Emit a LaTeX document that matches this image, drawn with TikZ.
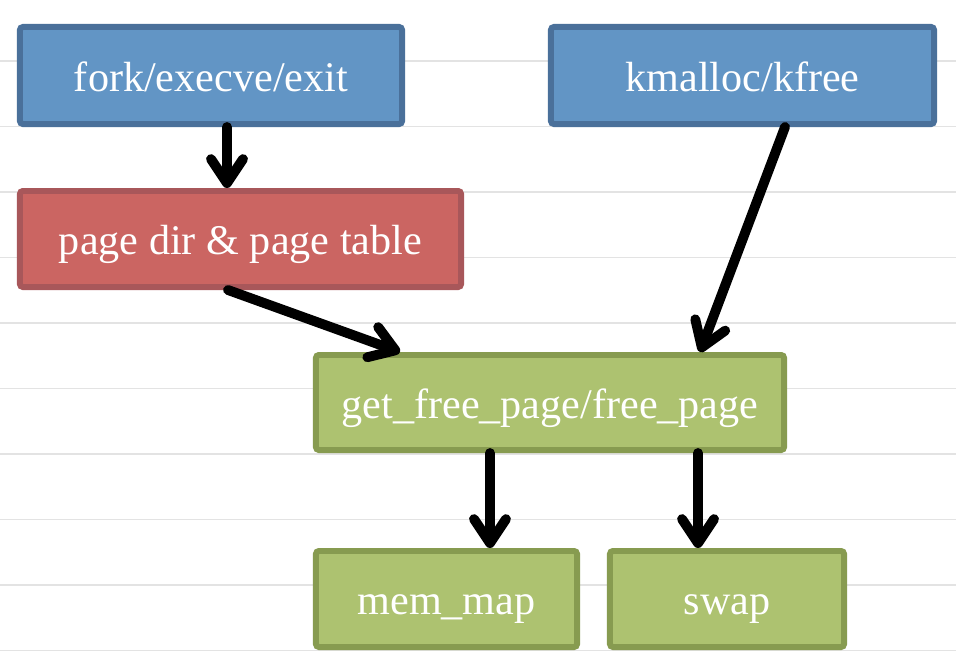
\documentclass[tikz,border=0pt]{standalone}
\usepackage{fontspec}
\setmainfont{Liberation Serif}
\usetikzlibrary{arrows.meta}
\definecolor{boxblue}{HTML}{6295C5}
\definecolor{boxblueline}{HTML}{4A709A}
\definecolor{boxred}{HTML}{CB6562}
\definecolor{boxredline}{HTML}{A8575A}
\definecolor{boxgreen}{HTML}{ADC270}
\definecolor{boxgreenline}{HTML}{879B50}
\definecolor{ruleline}{HTML}{E3E3E3}

\begin{document}
\begin{tikzpicture}[x=0.025cm, y=-0.025cm,
  box/.style={draw, line width=4.25pt, rounded corners=0.075cm, text=white,
    font=\fontsize{30}{36}\selectfont, inner sep=0pt, minimum height=2.4cm,
    text height=22.7pt, text depth=0pt},
  bluebox/.style={box, fill=boxblue, draw=boxblueline},
  redbox/.style={box, fill=boxred, draw=boxredline},
  greenbox/.style={box, fill=boxgreen, draw=boxgreenline},
  flow/.style={line width=7pt, line cap=round,
    -{Straight Barb[length=0.6cm, width=0.8cm, round]}}]

\useasboundingbox (0,0) rectangle (956,664);
\fill[white] (0,0) rectangle (956,664);

% ruled background
\foreach \y in {61,126.5,...,651}
  \draw [color=ruleline, line width=1.4pt] (0,\y) -- (956,\y);

\node [bluebox, minimum width=9.55cm, minimum height=2.425cm] (fork) at (211,75.5) {fork/execve/exit};
\node [bluebox, minimum width=9.575cm, minimum height=2.425cm] (kmalloc) at (742.5,75.5) {kmalloc/kfree};
\node [redbox, minimum width=11.025cm] (pagedir) at (240.5,239) {page dir \& page table};
\node [greenbox, minimum width=11.7cm, minimum height=2.375cm] (getfree) at (550,402.5) {get\_free\_page/free\_page};
\node [greenbox, minimum width=6.525cm] (memmap) at (446.5,599) {mem\_map};
\node [greenbox, minimum width=5.85cm] (swap) at (727,599) {swap};

\draw [flow] ([xshift=0.4cm]fork.south) -- ([xshift=0.4cm]fork.south |- pagedir.north);
\draw [flow] ([xshift=-0.3125cm]pagedir.south) -- ([xshift=-3.75cm]getfree.north);
\draw [flow] ([xshift=1.0625cm]kmalloc.south) -- ([xshift=3.75cm]getfree.north);
\draw [flow] ([xshift=-1.5cm]getfree.south) -- ([xshift=-1.5cm]getfree.south |- memmap.north);
\draw [flow] ([xshift=3.7cm]getfree.south) -- ([xshift=3.7cm]getfree.south |- swap.north);

\end{tikzpicture}
\end{document}
